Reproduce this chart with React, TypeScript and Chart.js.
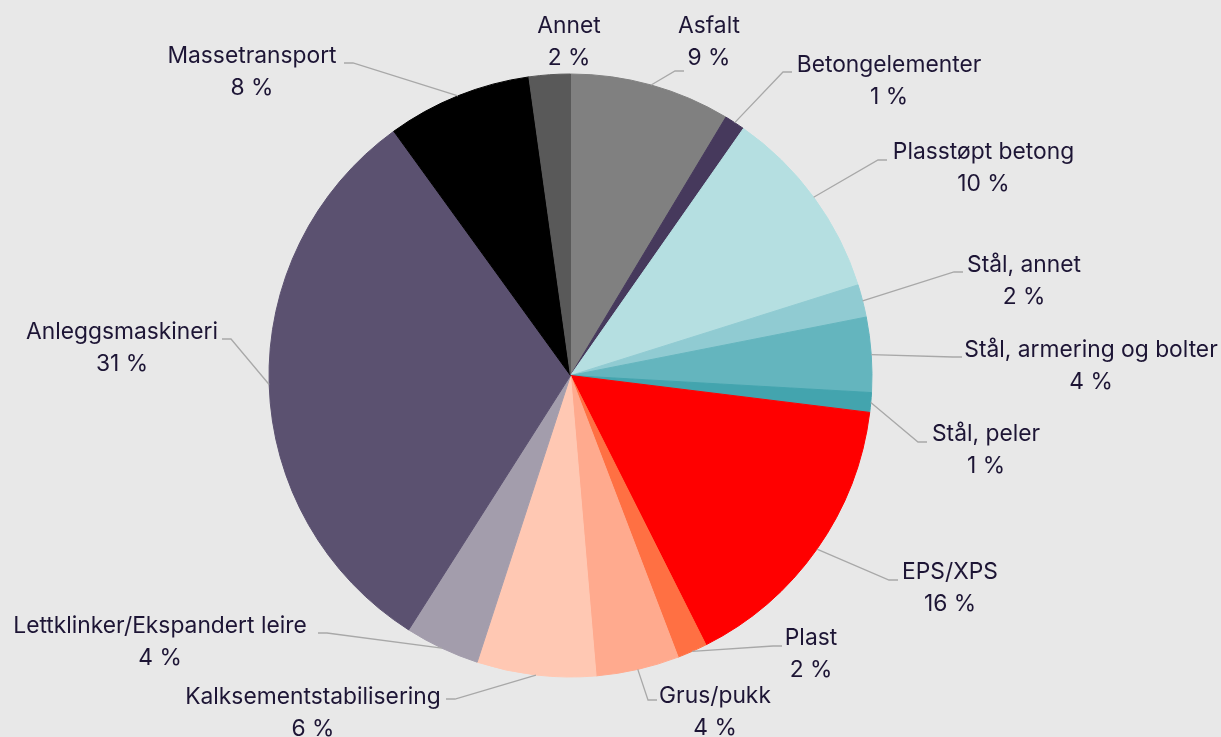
import React, { useEffect, useRef } from "react";
import { Chart, registerables } from "chart.js";

Chart.register(...registerables);

const categories = [
  "Asfalt",
  "Betongelementer",
  "Plasstøpt betong",
  "Stål, annet",
  "Stål, armering og bolter",
  "Stål, peler",
  "EPS/XPS",
  "Plast",
  "Grus/pukk",
  "Kalksementstabilisering",
  "Lettklinker/Ekspandert leire",
  "Anleggsmaskineri",
  "Massetransport",
  "Annet",
];

const shares = [8.6, 1.1, 10.4, 1.75, 4.0, 1.05, 15.6, 1.6, 4.45, 6.35, 4.0, 30.95, 7.75, 2.2];

const sliceColors = [
  "#808080",
  "#46395c",
  "#b5dfe1",
  "#90cbd2",
  "#64b5be",
  "#43a4ae",
  "#ff0000",
  "#ff7043",
  "#ffaa8e",
  "#ffc8b3",
  "#a39dac",
  "#5b5170",
  "#000000",
  "#595959",
];

// Label placement relative to the pie centre: text block centre (tx, ty) and
// where the leader line meets the label (lx, ly); null = no leader line.
const labelLayout: { tx: number; ty: number; lx: number | null; ly: number | null }[] = [
  { tx: 138.5, ty: -333.5, lx: 113.5, ly: -304.5 },
  { tx: 318.5, ty: -294, lx: 221.5, ly: -303.5 },
  { tx: 413, ty: -207.5, lx: 316.5, ly: -215.5 },
  { tx: 453.5, ty: -94.5, lx: 392.5, ly: -103.5 },
  { tx: 520.5, ty: -9.5, lx: 391.5, ly: -18.5 },
  { tx: 415.5, ty: 75, lx: 356.5, ly: 66.5 },
  { tx: 379.5, ty: 212.5, lx: 327.5, ly: 204.5 },
  { tx: 240.5, ty: 278.5, lx: 211.5, ly: 270.5 },
  { tx: 144.5, ty: 336.5, lx: 86.5, ly: 324.5 },
  { tx: -257.5, ty: 338, lx: -124.5, ly: 323.5 },
  { tx: -410.5, ty: 267, lx: -252.5, ly: 257.5 },
  { tx: -448.5, ty: -27.5, lx: -348.5, ly: -36.5 },
  { tx: -318.5, ty: -303.5, lx: -226.5, ly: -312.5 },
  { tx: -1.5, ty: -333.5, lx: null, ly: null },
];

const FONT = "22.8px Inter";
const TEXT_COLOR = "#1d1535";
const LINE_COLOR = "#a8a8a8";
const LINE_GAP = 32;

const labelPlugin = {
  id: "pieLabels",
  afterDatasetsDraw(chart: any) {
    const ctx = chart.ctx as CanvasRenderingContext2D;
    const meta = chart.getDatasetMeta(0);
    const data = chart.data.datasets[0].data as number[];
    const total = data.reduce((a, b) => a + b, 0);
    ctx.save();
    meta.data.forEach((arc: any, i: number) => {
      const { x, y, startAngle, endAngle, outerRadius } = arc.getProps(
        ["x", "y", "startAngle", "endAngle", "outerRadius"],
        true
      );
      const lay = labelLayout[i];
      const mid = (startAngle + endAngle) / 2;
      const px = x + Math.cos(mid) * outerRadius;
      const py = y + Math.sin(mid) * outerRadius;
      const tx = x + lay.tx;
      const ty = y + lay.ty;
      if (lay.lx !== null && lay.ly !== null) {
        const lx = x + lay.lx;
        const ly = y + lay.ly;
        const sign = tx > lx ? 1 : -1;
        const ex = lx - 9 * sign;
        ctx.beginPath();
        ctx.moveTo(px, py);
        ctx.lineTo(ex, ly);
        ctx.lineTo(lx, ly);
        ctx.strokeStyle = LINE_COLOR;
        ctx.lineWidth = 1.3;
        ctx.stroke();
      }
      ctx.font = FONT;
      ctx.fillStyle = TEXT_COLOR;
      ctx.textAlign = "center";
      ctx.textBaseline = "middle";
      const pct = Math.round((data[i] / total) * 100) + " %";
      ctx.fillText(categories[i], tx, ty - LINE_GAP / 2);
      ctx.fillText(pct, tx, ty + LINE_GAP / 2);
    });
    ctx.restore();
  },
};

export default function App() {
  const canvasRef = useRef<HTMLCanvasElement | null>(null);

  useEffect(() => {
    if (!canvasRef.current) return;
    const chart = new Chart(canvasRef.current, {
      type: "pie",
      data: {
        labels: categories,
        datasets: [
          {
            data: shares,
            backgroundColor: sliceColors,
            borderColor: sliceColors,
            borderWidth: 1,
            hoverOffset: 0,
          },
        ],
      },
      options: {
        animation: false,
        responsive: false,
        layout: { padding: { top: 73.5, bottom: 59.5, left: 200, right: 280 } },
        plugins: {
          legend: { display: false },
          tooltip: { enabled: false },
        },
        events: [],
      },
      plugins: [labelPlugin],
    });
    if ((document as any).fonts && (document as any).fonts.load) {
      (document as any).fonts.load(FONT).then(() => chart.update()).catch(() => {});
    }
    return () => chart.destroy();
  }, []);

  return (
    <div
      style={{
        position: "fixed",
        left: 0,
        top: 0,
        width: 1221,
        height: 737,
        background: "#e8e8e8",
        overflow: "hidden",
      }}
    >
      <canvas ref={canvasRef} width={1221} height={737} style={{ width: 1221, height: 737, display: "block" }} />
    </div>
  );
}
